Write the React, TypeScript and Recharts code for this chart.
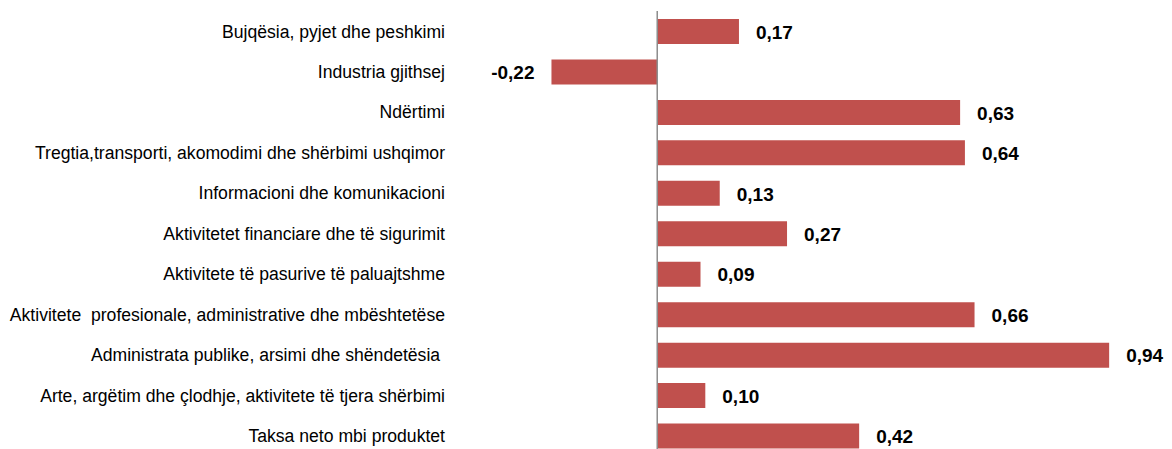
import { BarChart, Bar, XAxis, YAxis, ReferenceLine, LabelList } from 'recharts'

const categories = [
  'Bujqësia, pyjet dhe peshkimi',
  'Industria gjithsej',
  'Ndërtimi',
  'Tregtia,transporti, akomodimi dhe shërbimi ushqimor',
  'Informacioni dhe komunikacioni',
  'Aktivitetet financiare dhe të sigurimit',
  'Aktivitete të pasurive të paluajtshme',
  'Aktivitete  profesionale, administrative dhe mbështetëse',
  'Administrata publike, arsimi dhe shëndetësia ',
  'Arte, argëtim dhe çlodhje, aktivitete të tjera shërbimi',
  'Taksa neto mbi produktet',
]

const values = [0.17, -0.22, 0.63, 0.64, 0.13, 0.27, 0.09, 0.66, 0.94, 0.1, 0.42]

const data = categories.map((name, i) => ({ name, value: values[i] }))

const font = '"Liberation Sans Narrow", "Arial Narrow", "Liberation Sans", Arial, sans-serif'

const fmt = (v: number) => v.toFixed(2).replace('.', ',')

function ValueLabel(props: any) {
  const { x, y, width, height, value } = props
  const left = Math.min(x, x + width)
  const right = Math.max(x, x + width)
  const neg = value < 0
  return (
    <text
      x={neg ? left - 17 : right + 17}
      y={y + height / 2}
      dy="0.38em"
      textAnchor={neg ? 'end' : 'start'}
      fontFamily={font}
      fontSize={19}
      fontWeight="bold"
      fill="#000"
    >
      {fmt(value)}
    </text>
  )
}

function CategoryTick(props: any) {
  const { x, y, payload } = props
  return (
    <text
      x={x}
      y={y}
      dy="0.36em"
      textAnchor="end"
      fontFamily={font}
      fontSize={17.6}
      fill="#000"
      style={{ whiteSpace: 'pre' }}
    >
      {payload.value}
    </text>
  )
}

export default function App() {
  return (
    <div style={{ position: 'absolute', left: 0, top: 0, width: 1172, height: 449, overflow: 'hidden', background: '#fff' }}>
      <BarChart
        width={1172}
        height={460}
        data={data}
        layout="vertical"
        margin={{ top: 11, right: 34, bottom: 4, left: 0 }}
        barCategoryGap={0}
      >
        <XAxis type="number" domain={[-0.3, 1.0]} hide />
        <YAxis
          type="category"
          dataKey="name"
          width={513}
          axisLine={false}
          tickLine={false}
          tickSize={0}
          tickMargin={68}
          interval={0}
          tick={<CategoryTick />}
        />
        <Bar dataKey="value" fill="#C0504D" barSize={25} isAnimationActive={false}>
          <LabelList dataKey="value" content={<ValueLabel />} />
        </Bar>
        <ReferenceLine x={0} stroke="#8c8c8c" strokeWidth={1.5} />
      </BarChart>
    </div>
  )
}
